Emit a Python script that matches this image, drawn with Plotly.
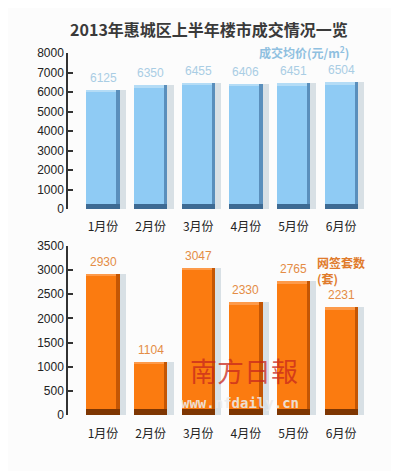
import plotly.graph_objects as go

months = ["1月份", "2月份", "3月份", "4月份", "5月份", "6月份"]
price = [6125, 6350, 6455, 6406, 6451, 6504]
deals = [2930, 1104, 3047, 2330, 2765, 2231]
price_ticks = [0, 1000, 2000, 3000, 4000, 5000, 6000, 7000, 8000]
deal_ticks = [0, 500, 1000, 1500, 2000, 2500, 3000, 3500]

pos = list(range(len(months)))
FONT = "Noto Sans CJK SC"
NUM = "Liberation Sans"
BW = 0.70

fig = go.Figure()

def add_bars(values, xa, ya, main, edge, bottom, top, shadow, vmax):
    common = dict(xaxis=xa, yaxis=ya, hoverinfo="skip", showlegend=False)
    fig.add_trace(go.Bar(x=[p + 0.13 for p in pos], y=values, width=BW,
                         marker=dict(color=shadow, line=dict(width=0)), **common))
    fig.add_trace(go.Bar(x=pos, y=values, width=BW, marker=dict(color=main, line=dict(width=0)),
                         xaxis=xa, yaxis=ya, showlegend=False))
    h = vmax * 0.015
    fig.add_trace(go.Bar(x=pos, y=[h] * len(pos), base=[v - h for v in values], width=BW,
                         marker=dict(color=top, line=dict(width=0)), **common))
    fig.add_trace(go.Bar(x=[p + BW / 2 - 0.035 for p in pos], y=values, width=0.07,
                         marker=dict(color=edge, line=dict(width=0)), **common))
    fig.add_trace(go.Bar(x=pos, y=[vmax * 0.035] * len(pos), width=BW,
                         marker=dict(color=bottom, line=dict(width=0)), **common))

add_bars(price, "x", "y", "#8fcbf4", "#5a8fbc", "#3d6a93", "#b4dcf6", "rgba(150,172,185,0.35)", 8000)
add_bars(deals, "x2", "y2", "#fb7b10", "#c45604", "#7e3602", "#fd9a4a", "rgba(150,172,185,0.35)", 3500)

ann = []
for p, v in zip(pos, price):
    ann.append(dict(x=p, y=v, xref="x", yref="y", text=str(v), showarrow=False, yshift=12,
                    font=dict(family=NUM, size=12, color="#a9cde4")))
for p, v in zip(pos, deals):
    ann.append(dict(x=p, y=v, xref="x2", yref="y2", text=str(v), showarrow=False, yshift=12,
                    font=dict(family=NUM, size=12, color="#e48c45")))

# the page body adds an 8px offset, so the figure is drawn 8px smaller
W, H = 391, 463
PL, PT, PB, PR = 60, 45, 56, 14
PW, PH = W - PL - PR, H - PT - PB

fig.update_layout(
    width=W, height=H,
    margin=dict(l=PL, r=PR, t=PT, b=PB),
    paper_bgcolor="#fcfcfc", plot_bgcolor="rgba(0,0,0,0)",
    barmode="overlay", bargap=0,
    font=dict(family=FONT, color="#222"),
    title=dict(text="<b>2013年惠城区上半年楼市成交情况一览</b>", x=(209 - 8) / W, xanchor="center",
               y=1 - 22 / H, yanchor="middle", font=dict(family=FONT, size=16, color="#3a3a3a")),
    annotations=ann,
)

rng = [-0.735, 5.92]
fig.update_layout(
    xaxis=dict(domain=[0, 1], range=rng, anchor="y", tickvals=pos, ticktext=months, showline=False,
               showgrid=False, zeroline=False, ticks="", ticklabelstandoff=9,
               tickfont=dict(family=FONT, size=12, color="#222")),
    xaxis2=dict(domain=[0, 1], range=rng, anchor="y2", tickvals=pos, ticktext=months, showline=False,
                showgrid=False, zeroline=False, ticks="", ticklabelstandoff=10,
                tickfont=dict(family=FONT, size=12, color="#222")),
    yaxis=dict(domain=[(415 - 209) / PH, 1], range=[0, 8000], tickvals=price_ticks,
               showline=True, linecolor="#333", linewidth=1.5, ticks="inside", ticklen=5,
               tickcolor="#333", tickwidth=1.5, showgrid=False, zeroline=False,
               tickfont=dict(family=NUM, size=12, color="#222")),
    yaxis2=dict(domain=[0, (415 - 246) / PH], range=[0, 3500], tickvals=deal_ticks,
                showline=True, linecolor="#333", linewidth=1.5, ticks="inside", ticklen=5,
                tickcolor="#333", tickwidth=1.5, showgrid=False, zeroline=False,
                tickfont=dict(family=NUM, size=12, color="#222")),
)

def px(xr):
    return (xr - 68) / PW

def py(yr):
    return (415 - yr) / PH

fig.add_annotation(x=px(351), y=py(52), xref="paper", yref="paper", xanchor="right", yanchor="middle",
                   text="<b>成交均价(元/m<sup>2</sup>)</b>", showarrow=False,
                   font=dict(family=FONT, size=12, color="#8fc0e0"))
fig.add_annotation(x=px(315), y=py(270), xref="paper", yref="paper",
                   xanchor="left", yanchor="middle", align="left",
                   text="<b>网签套数<br>(套)</b>", showarrow=False,
                   font=dict(family=FONT, size=12, color="#e07b2c"))
fig.add_annotation(x=px(300), y=py(392), xref="paper", yref="paper",
                   text="南方日報", showarrow=False,
                   font=dict(family=FONT, size=27, color="rgba(200,40,30,0.75)"))
fig.add_annotation(x=px(301), y=py(413), xref="paper", yref="paper",
                   text="<b>www.nfdaily.cn</b>", showarrow=False,
                   font=dict(family="DejaVu Sans Mono", size=14, color="rgba(235,235,235,0.9)"))

fig.write_html("out.html")
